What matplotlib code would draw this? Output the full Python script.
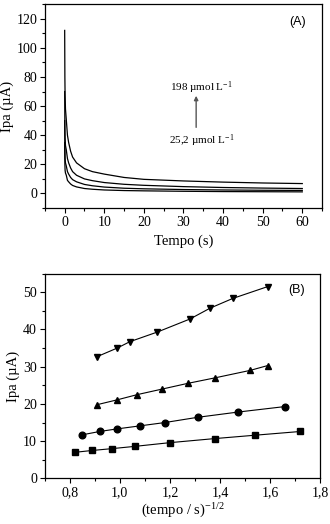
import matplotlib
matplotlib.use("Agg")
import matplotlib.pyplot as plt
from matplotlib.ticker import MultipleLocator, FixedLocator

# Panel A: chronoamperograms (time in s, current in uA)
tempo = [0, 0.05, 0.1, 0.2, 0.4, 0.7, 1, 1.5, 2, 3, 5, 7, 10, 15, 20, 30, 40, 50, 60]
ipa_198 = [112, 80, 68, 58, 51, 40, 35, 29, 25, 21, 17, 15, 13.3, 11, 9.7, 8.6, 7.8, 7.2, 6.8]
ipa_c3 = [70, 45, 38, 33, 30, 24, 21, 17.5, 15, 12.5, 10, 8.8, 7.5, 6.3, 5.6, 4.7, 4.1, 3.7, 3.4]
ipa_c2 = [50, 30, 24, 21, 19, 15, 13.3, 11, 9.5, 8, 6.2, 5.3, 4.4, 3.6, 3.2, 2.7, 2.4, 2.2, 2.1]
ipa_25 = [35, 20, 16, 14, 12.6, 9, 8, 6.5, 5.5, 4.5, 3.4, 2.9, 2.4, 2.0, 1.8, 1.5, 1.3, 1.2, 1.1]

# Panel B: Ipa vs t^-1/2
x_down = [0.91, 0.99, 1.04, 1.15, 1.28, 1.36, 1.45, 1.59]
y_down = [32.7, 35.0, 36.7, 39.3, 42.8, 45.7, 48.3, 51.5]
x_up = [0.91, 0.99, 1.07, 1.17, 1.27, 1.38, 1.52, 1.59]
y_up = [19.8, 21.1, 22.5, 24.0, 25.5, 27.0, 29.0, 30.3]
x_circ = [0.85, 0.92, 0.99, 1.08, 1.18, 1.31, 1.47, 1.66]
y_circ = [11.7, 12.6, 13.3, 14.1, 15.0, 16.4, 17.8, 19.3]
x_sq = [0.82, 0.89, 0.97, 1.06, 1.20, 1.38, 1.54, 1.72]
y_sq = [7.0, 7.5, 8.0, 8.6, 9.6, 10.7, 11.6, 12.6]

serif = "Liberation Serif"
sans = "Liberation Sans"
plt.rcParams["mathtext.fontset"] = "custom"
plt.rcParams["mathtext.rm"] = serif
plt.rcParams["mathtext.it"] = serif + ":italic"
plt.rcParams["mathtext.bf"] = serif + ":bold"

fig = plt.figure(figsize=(3.3, 5.24), dpi=100)
axA = fig.add_axes([0.136, 0.603, 0.840, 0.389])
axB = fig.add_axes([0.135, 0.087, 0.836, 0.391])


def style(ax):
    ax.tick_params(which="both", direction="out", top=False, right=False,
                   labelsize=10, width=0.8, pad=2)
    ax.tick_params(which="major", length=3.5)
    ax.tick_params(which="minor", length=2)
    for lab in ax.get_xticklabels() + ax.get_yticklabels():
        lab.set_fontfamily(serif)
    for s in ax.spines.values():
        s.set_linewidth(0.9)


# ---- Panel A
for y in (ipa_198, ipa_c3, ipa_c2, ipa_25):
    axA.plot(tempo, y, color="black", lw=0.9)
axA.set_xlim(-5, 65)
axA.set_ylim(-10, 130)
axA.xaxis.set_major_locator(MultipleLocator(10))
axA.xaxis.set_minor_locator(MultipleLocator(5))
axA.yaxis.set_major_locator(FixedLocator([0, 20, 40, 60, 80, 100, 120]))
axA.yaxis.set_minor_locator(MultipleLocator(10))
style(axA)
axA.set_xlabel("Tempo (s)", fontfamily=serif, fontsize=10.5, labelpad=4)
axA.set_ylabel("Ipa (\u00b5A)", fontfamily=serif, fontsize=10.5, labelpad=2)
axA.text(58.7, 118, "(A)", fontfamily=sans, fontsize=9, ha="center", va="center")
axA.text(34.5, 72.5, "198 \u00b5mol L$^{-1}$", fontfamily=serif,
         fontsize=8, ha="center", va="center")
axA.text(34.5, 36, "25,2 \u00b5mol L$^{-1}$", fontfamily=serif,
         fontsize=8, ha="center", va="center")
axA.annotate("", xy=(33.2, 69), xytext=(33.2, 43.5),
             arrowprops=dict(arrowstyle="-|>", color="#555555", lw=1.0,
                             mutation_scale=6))

# ---- Panel B
mk = dict(color="black", lw=0.8, markersize=4.8)
axB.plot(x_down, y_down, marker="v", **mk)
axB.plot(x_up, y_up, marker="^", **mk)
axB.plot(x_circ, y_circ, marker="o", **mk)
axB.plot(x_sq, y_sq, marker="s", **{**mk, "markersize": 4.2})
axB.set_xlim(0.7, 1.8)
axB.set_ylim(0, 55)
axB.xaxis.set_major_locator(FixedLocator([0.8, 1.0, 1.2, 1.4, 1.6, 1.8]))
axB.xaxis.set_minor_locator(MultipleLocator(0.1))
axB.yaxis.set_major_locator(MultipleLocator(10))
axB.yaxis.set_minor_locator(MultipleLocator(5))
axB.set_xticklabels(["0,8", "1,0", "1,2", "1,4", "1,6", "1,8"])
style(axB)
axB.set_xlabel("(tempo / s)$^{-1/2}$", fontfamily=serif,
               fontsize=10.5, labelpad=2)
axB.set_ylabel("Ipa (\u00b5A)", fontfamily=serif, fontsize=10.5, labelpad=2)
axB.text(1.706, 50.5, "(B)", fontfamily=sans, fontsize=9, ha="center", va="center")

fig.savefig("out.png", dpi=100)
